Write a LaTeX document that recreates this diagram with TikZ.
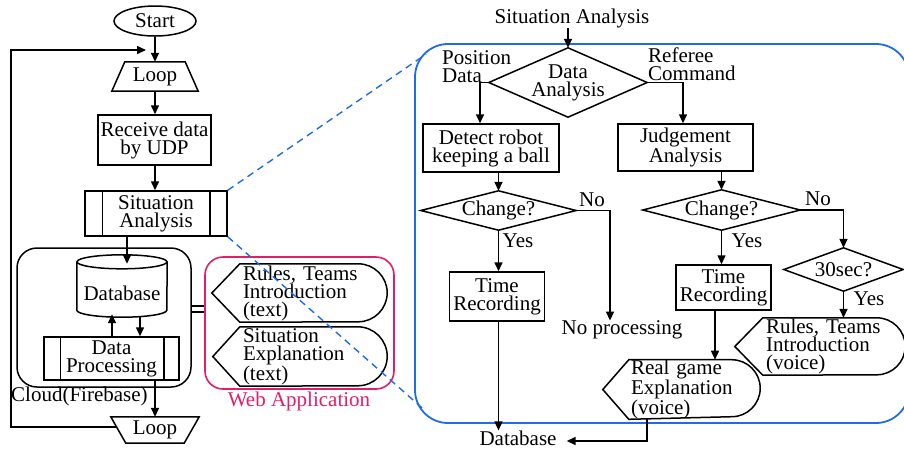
\documentclass[tikz,border=0pt]{standalone}
\usepackage{fontspec}
\setmainfont{Liberation Serif}
\usetikzlibrary{arrows.meta,calc,shapes.geometric}
\definecolor{mag}{RGB}{226,30,106}
\definecolor{blu}{RGB}{30,108,235}
\begin{document}
\begin{tikzpicture}[x=1pt,y=-1pt,
  every node/.style={font=\fontsize{21}{18}\selectfont, inner sep=0pt, align=center},
  ln/.style={line width=1.5pt, black},
  arr/.style={ln, -{Triangle[length=9pt,width=8pt]}},
  boxr/.style={draw, line width=1.5pt},
  disp/.style={inner xsep=3pt, inner ysep=0pt, align=left},
  bdash/.style={draw=blu, line width=1.4pt, dash pattern=on 7pt off 5pt},
]
\useasboundingbox (0,0) rectangle (904,451);

% ---------------- left column ----------------
\node[draw, line width=1.5pt, ellipse, minimum width=82pt, minimum height=30pt] (start) at (155,21) {Start};
\node[minimum width=60pt, minimum height=29pt] (loop1) at (155,76.5) {Loop};
\draw[ln] (loop1.north west) -- (loop1.north east) -- ($(loop1.south east)+(13,0)$) -- ($(loop1.south west)+(-13,0)$) -- cycle;
\node[boxr, minimum width=113pt, minimum height=50pt] (recv) at (154.5,140) {Receive data\\by UDP};
\node[boxr, minimum width=142pt, minimum height=45pt] (sit) at (156,213.5) {Situation\\Analysis};
\draw[ln] ($(sit.north west)+(18,0)$) -- ($(sit.south west)+(18,0)$);
\draw[ln] ($(sit.north east)+(-18,0)$) -- ($(sit.south east)+(-18,0)$);

\node[draw, line width=1.5pt, rounded corners=20pt, minimum width=174pt, minimum height=139pt] (cloud) at (104,317.5) {};
\node[minimum width=90pt, minimum height=48pt] (db) at (122,293) {Database};
\draw[ln] ($(db.north west)+(0,-7)$) -- ($(db.south west)+(0,-7)$) arc[start angle=180,end angle=360,x radius=45pt,y radius=7pt] -- ($(db.north east)+(0,-7)$);
\draw[ln] ($(db.north)+(0,-7)$) ellipse[x radius=45pt, y radius=7pt];
\node[boxr, minimum width=135pt, minimum height=43pt] (dp) at (111.5,358.5) {Data\\Processing};
\draw[ln] ($(dp.north west)+(17,0)$) -- ($(dp.south west)+(17,0)$);
\draw[ln] ($(dp.north east)+(-16,0)$) -- ($(dp.south east)+(-16,0)$);
\node[anchor=west] (cloudlbl) at (11,396) {Cloud(Firebase)};

\node[minimum width=58pt, minimum height=26pt] (loop2) at (155,430) {Loop};
\draw[ln] (loop2.south west) -- (loop2.south east) -- ($(loop2.north east)+(15,0)$) -- ($(loop2.north west)+(-15,0)$) -- cycle;

\coordinate (fb0) at (117,427);
\coordinate (fb1) at (11,427);
\coordinate (fb2) at (11,50);
\coordinate (fbe) at (146,50);

\draw[arr] (start.south) -- (loop1.north);
\draw[arr] (fb0) -- (fb1) -- (fb2) -- (fbe);
\draw[arr] (loop1.south) -- (loop1.south |- recv.north);
\draw[arr] (recv.south -| loop1.south) -- (loop1.south |- sit.north);
\draw[arr] ($(sit.south)+(-29,0)$) -- ($(db.north)+(5,-5)$);
\draw[arr] ($(dp.north)+(0.5,0)$) -- ($(db.south)+(-10,-3)$);
\draw[arr] ($(db.south)+(18,-1)$) -- ($(dp.north)+(28.5,0)$);
\draw[arr] ($(dp.south)+(43.5,0)$) -- (loop2.north);

% ---------------- web application ----------------
\node[draw=mag, line width=1.6pt, rounded corners=18pt, minimum width=189pt, minimum height=132pt] (web) at (299.5,323) {};
\node[text=mag] (weblbl) at (299,401) {Web Application};
\draw[ln] ($(cloud.east)+(0,-11.5)$) -- ($(web.west)+(0,-17)$);
\draw[ln] ($(cloud.east)+(0,-5.5)$) -- ($(web.west)+(0,-11)$);

\node[disp, text width=141pt, minimum height=58pt] (w1) at (313.5,293) {Rules, Teams\\Introduction\\(text)};
\draw[ln] (w1.north west) -- ($(w1.north east)+(-29,0)$) arc[start angle=90,end angle=-90,radius=29pt] -- (w1.south west) -- ($(w1.west)+(-28,0)$) -- cycle;
\node[disp, text width=141pt, minimum height=59pt] (w2) at (313.5,356.5) {Situation\\Explanation\\(text)};
\draw[ln] (w2.north west) -- ($(w2.north east)+(-29.5,0)$) arc[start angle=90,end angle=-90,radius=29.5pt] -- (w2.south west) -- ($(w2.west)+(-27,0)$) -- cycle;

% ---------------- situation analysis detail ----------------
\node[draw=blu, line width=1.8pt, rounded corners=33pt, minimum width=494pt, minimum height=379pt] (bbox) at (662,233.5) {};
\draw[bdash] (sit.north east) -- ($(bbox.north west)+(12,11)$);
\draw[bdash] (sit.south east) -- ($(bbox.south west)+(8,-16)$);

\node (satitle) at (572,18) {Situation Analysis};
\node[minimum width=158pt, minimum height=69pt] (da) at (568,82.5) {Data\\Analysis};
\draw[ln] (da.north) -- (da.east) -- (da.south) -- (da.west) -- cycle;
\node[anchor=west, align=left] (posd) at (442,67) {Position\\Data};
\node[anchor=west, align=left] (refc) at (648,64.5) {Referee\\Command};
\draw[arr] ($(satitle.south)+(-4,0)$) -- (da.north);

\node[boxr, minimum width=136pt, minimum height=48pt] (det) at (491,148) {Detect robot\\keeping a ball};
\node[boxr, minimum width=135pt, minimum height=47pt] (jud) at (685.5,147.5) {Judgement\\Analysis};
\draw[arr] (da.west) -| ($(det.north)+(-11,0)$);
\draw[arr] (da.east) -| ($(jud.north)+(-2.5,0)$);

\node[minimum width=155pt, minimum height=39pt] (ch1) at (498.5,210.5) {Change?};
\draw[ln] (ch1.north) -- (ch1.east) -- (ch1.south) -- (ch1.west) -- cycle;
\draw[arr] (ch1.north |- det.south) -- (ch1.north);
\node (n1) at (592,200) {No};
\node (y1) at (518,241) {Yes};
\node (nop) at (622,330) {No processing};
\draw[arr] (ch1.east) -| ($(nop.north)+(-12,0)$);

\node[boxr, minimum width=95pt, minimum height=49pt] (tr1) at (497,296.5) {Time\\Recording};
\draw[arr] (ch1.south) -- (ch1.south |- tr1.north);
\node (dbt) at (518,438) {Database};
\draw[arr] (ch1.south |- tr1.south) -- (ch1.south |- dbt.north);

\node[minimum width=157pt, minimum height=40pt] (ch2) at (721.5,210) {Change?};
\draw[ln] (ch2.north) -- (ch2.east) -- (ch2.south) -- (ch2.west) -- cycle;
\draw[arr] (ch2.north |- jud.south) -- (ch2.north);
\node (n2) at (818,199) {No};
\node (y2) at (747,241) {Yes};

\node[minimum width=119pt, minimum height=43pt] (s30) at (843.5,269.5) {30sec?};
\draw[ln] (s30.north) -- (s30.east) -- (s30.south) -- (s30.west) -- cycle;
\draw[arr] (ch2.east) -| (s30.north);
\node (y3) at (869,299) {Yes};

\node[boxr, minimum width=95pt, minimum height=45pt] (tr2) at (723.5,287.5) {Time\\Recording};
\draw[arr] (ch2.south) -- (ch2.south |- tr2.north);

\node[disp, inner xsep=2pt, text width=127pt, minimum height=57pt] (rg) at (694.5,389.5) {Real game\\Explanation\\(voice)};
\draw[ln] (rg.north west) -- ($(rg.north east)+(-28.5,0)$) arc[start angle=90,end angle=-90,radius=28.5pt] -- (rg.south west) -- ($(rg.west)+(-26,0)$) -- cycle;
\node[disp, text width=136pt, minimum height=57pt] (rv) at (834,346.5) {Rules, Teams\\Introduction\\(voice)};
\draw[ln] (rv.north west) -- ($(rv.north east)+(-28.5,0)$) arc[start angle=90,end angle=-90,radius=28.5pt] -- (rv.south west) -- ($(rv.west)+(-28,0)$) -- cycle;

\coordinate (t2s) at ($(tr2.south)+(-8.5,0)$);
\draw[arr] (t2s) -- (t2s |- rg.north);
\draw[arr] (s30.south) -- (s30.south |- rv.north);
\draw[arr] ($(rg.south)+(-47.5,0)$) |- ($(dbt.east)+(10,3)$);
\end{tikzpicture}
\end{document}
